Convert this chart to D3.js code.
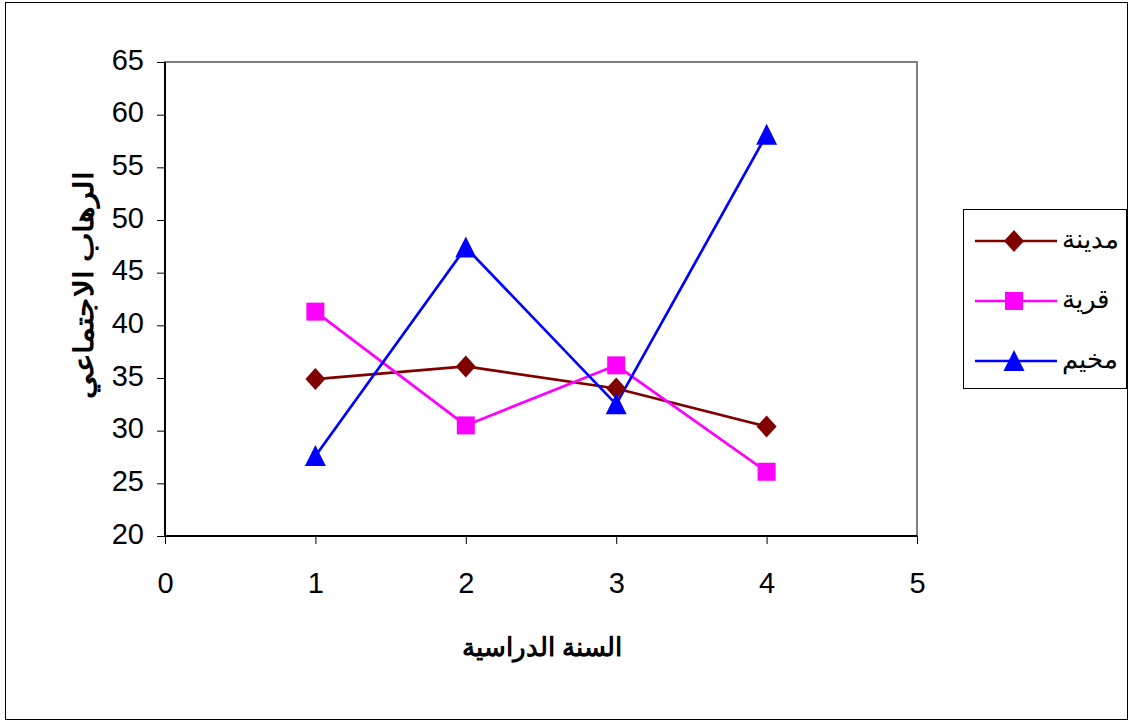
<!DOCTYPE html>
<html>
<head>
<meta charset="utf-8">
<script src="https://cdn.jsdelivr.net/npm/d3@7"></script>
<style>
  body { margin: 0; background: #fff; }
  text { font-family: "Liberation Sans", Arial, sans-serif; }
</style>
</head>
<body>
<svg width="1133" height="723"></svg>
<script>
const svg = d3.select('svg');

// data
const years = [1, 2, 3, 4];
const seriesNames = ['مدينة', 'قرية', 'مخيم'];
const madina = [34.9, 36.1, 34.0, 30.4];
const qarya = [41.3, 30.5, 36.2, 26.1];
const mukhayyam = [27.6, 47.4, 32.5, 58.1];
const xTicks = [0, 1, 2, 3, 4, 5];
const yTicks = [20, 25, 30, 35, 40, 45, 50, 55, 60, 65];
const xTitle = 'السنة الدراسية';
const yTitle = 'الرهاب الاجتماعي';

// excel-like marker shapes (bbox centred on the point)
const diamond = { draw(ctx) { ctx.moveTo(0, -11); ctx.lineTo(10, 0); ctx.lineTo(0, 11); ctx.lineTo(-10, 0); ctx.closePath(); } };
const square = { draw(ctx) { ctx.rect(-9, -9, 18, 18); } };
const triangle = { draw(ctx) { ctx.moveTo(0, -11); ctx.lineTo(10.5, 10); ctx.lineTo(-10.5, 10); ctx.closePath(); } };

const series = [
  { name: seriesNames[0], values: madina, color: '#800000', shape: diamond },
  { name: seriesNames[1], values: qarya, color: '#ff00ff', shape: square },
  { name: seriesNames[2], values: mukhayyam, color: '#0000ff', shape: triangle }
];

// outer frame
svg.append('rect')
  .attr('x', 5.5).attr('y', 2.5)
  .attr('width', 1122).attr('height', 717)
  .attr('fill', 'none').attr('stroke', '#000').attr('stroke-width', 1);

const pLeft = 165, pTop = 62, pRight = 917, pBottom = 536;

const x = d3.scaleLinear().domain([0, 5]).range([pLeft, pRight]);
const y = d3.scaleLinear().domain([20, 65]).range([pBottom, pTop]);

// plot area border
svg.append('rect')
  .attr('x', pLeft).attr('y', pTop)
  .attr('width', pRight - pLeft).attr('height', pBottom - pTop)
  .attr('fill', 'none').attr('stroke', '#808080').attr('stroke-width', 2);

const xAxis = svg.append('g')
  .attr('transform', `translate(0, ${pBottom})`)
  .call(d3.axisBottom(x).tickValues(xTicks).tickSize(8).tickPadding(28).tickFormat(d3.format('d')));
const yAxis = svg.append('g')
  .attr('transform', `translate(${pLeft}, 0)`)
  .call(d3.axisLeft(y).tickValues(yTicks).tickSize(8).tickPadding(13).tickFormat(d3.format('d')));

[xAxis, yAxis].forEach(a => {
  a.select('.domain').attr('stroke', '#000').attr('stroke-width', 2);
  a.selectAll('.tick line').attr('stroke', '#000');
  a.selectAll('.tick text')
    .attr('font-family', '"Liberation Sans", Arial, sans-serif')
    .attr('font-size', 29).attr('fill', '#000');
});
xAxis.select('.domain').attr('d', `M${pLeft},0H${pRight}`);
yAxis.select('.domain').attr('d', `M0,${pBottom}V${pTop}`);
yAxis.selectAll('.tick text').attr('dy', '0.25em');

// titles
svg.append('text')
  .attr('x', 542).attr('y', 656)
  .attr('text-anchor', 'middle')
  .attr('font-size', 26).attr('font-weight', 'bold')
  .text(xTitle);

svg.append('text')
  .attr('transform', 'translate(93, 285) rotate(-90)')
  .attr('text-anchor', 'middle')
  .attr('font-size', 27).attr('font-weight', 'bold')
  .attr('textLength', 228).attr('lengthAdjust', 'spacingAndGlyphs')
  .text(yTitle);

// lines + markers
const line = d3.line()
  .x((d, i) => x(years[i]))
  .y(d => y(d));

series.forEach(s => {
  svg.append('path')
    .attr('d', line(s.values))
    .attr('fill', 'none')
    .attr('stroke', s.color)
    .attr('stroke-width', 2.7);
});

series.forEach(s => {
  svg.selectAll(null)
    .data(s.values)
    .join('path')
    .attr('transform', (d, i) => `translate(${x(years[i])}, ${y(d)})`)
    .attr('d', d3.symbol().type(s.shape))
    .attr('fill', s.color);
});

// legend
const legend = svg.append('g');
legend.append('rect')
  .attr('x', 963.5).attr('y', 209.5)
  .attr('width', 163).attr('height', 179)
  .attr('fill', '#fff').attr('stroke', '#000').attr('stroke-width', 1);

const legendY = d3.scalePoint().domain(seriesNames).range([241, 361]);
series.forEach(s => {
  const ly = legendY(s.name);
  legend.append('line')
    .attr('x1', 975).attr('x2', 1057)
    .attr('y1', ly).attr('y2', ly)
    .attr('stroke', s.color).attr('stroke-width', 2.7);
  legend.append('path')
    .attr('transform', `translate(1014, ${ly})`)
    .attr('d', d3.symbol().type(s.shape))
    .attr('fill', s.color);
  legend.append('text')
    .attr('x', 1062).attr('y', ly + 7)
    .attr('font-size', 26)
    .text(s.name);
});
</script>
</body>
</html>
